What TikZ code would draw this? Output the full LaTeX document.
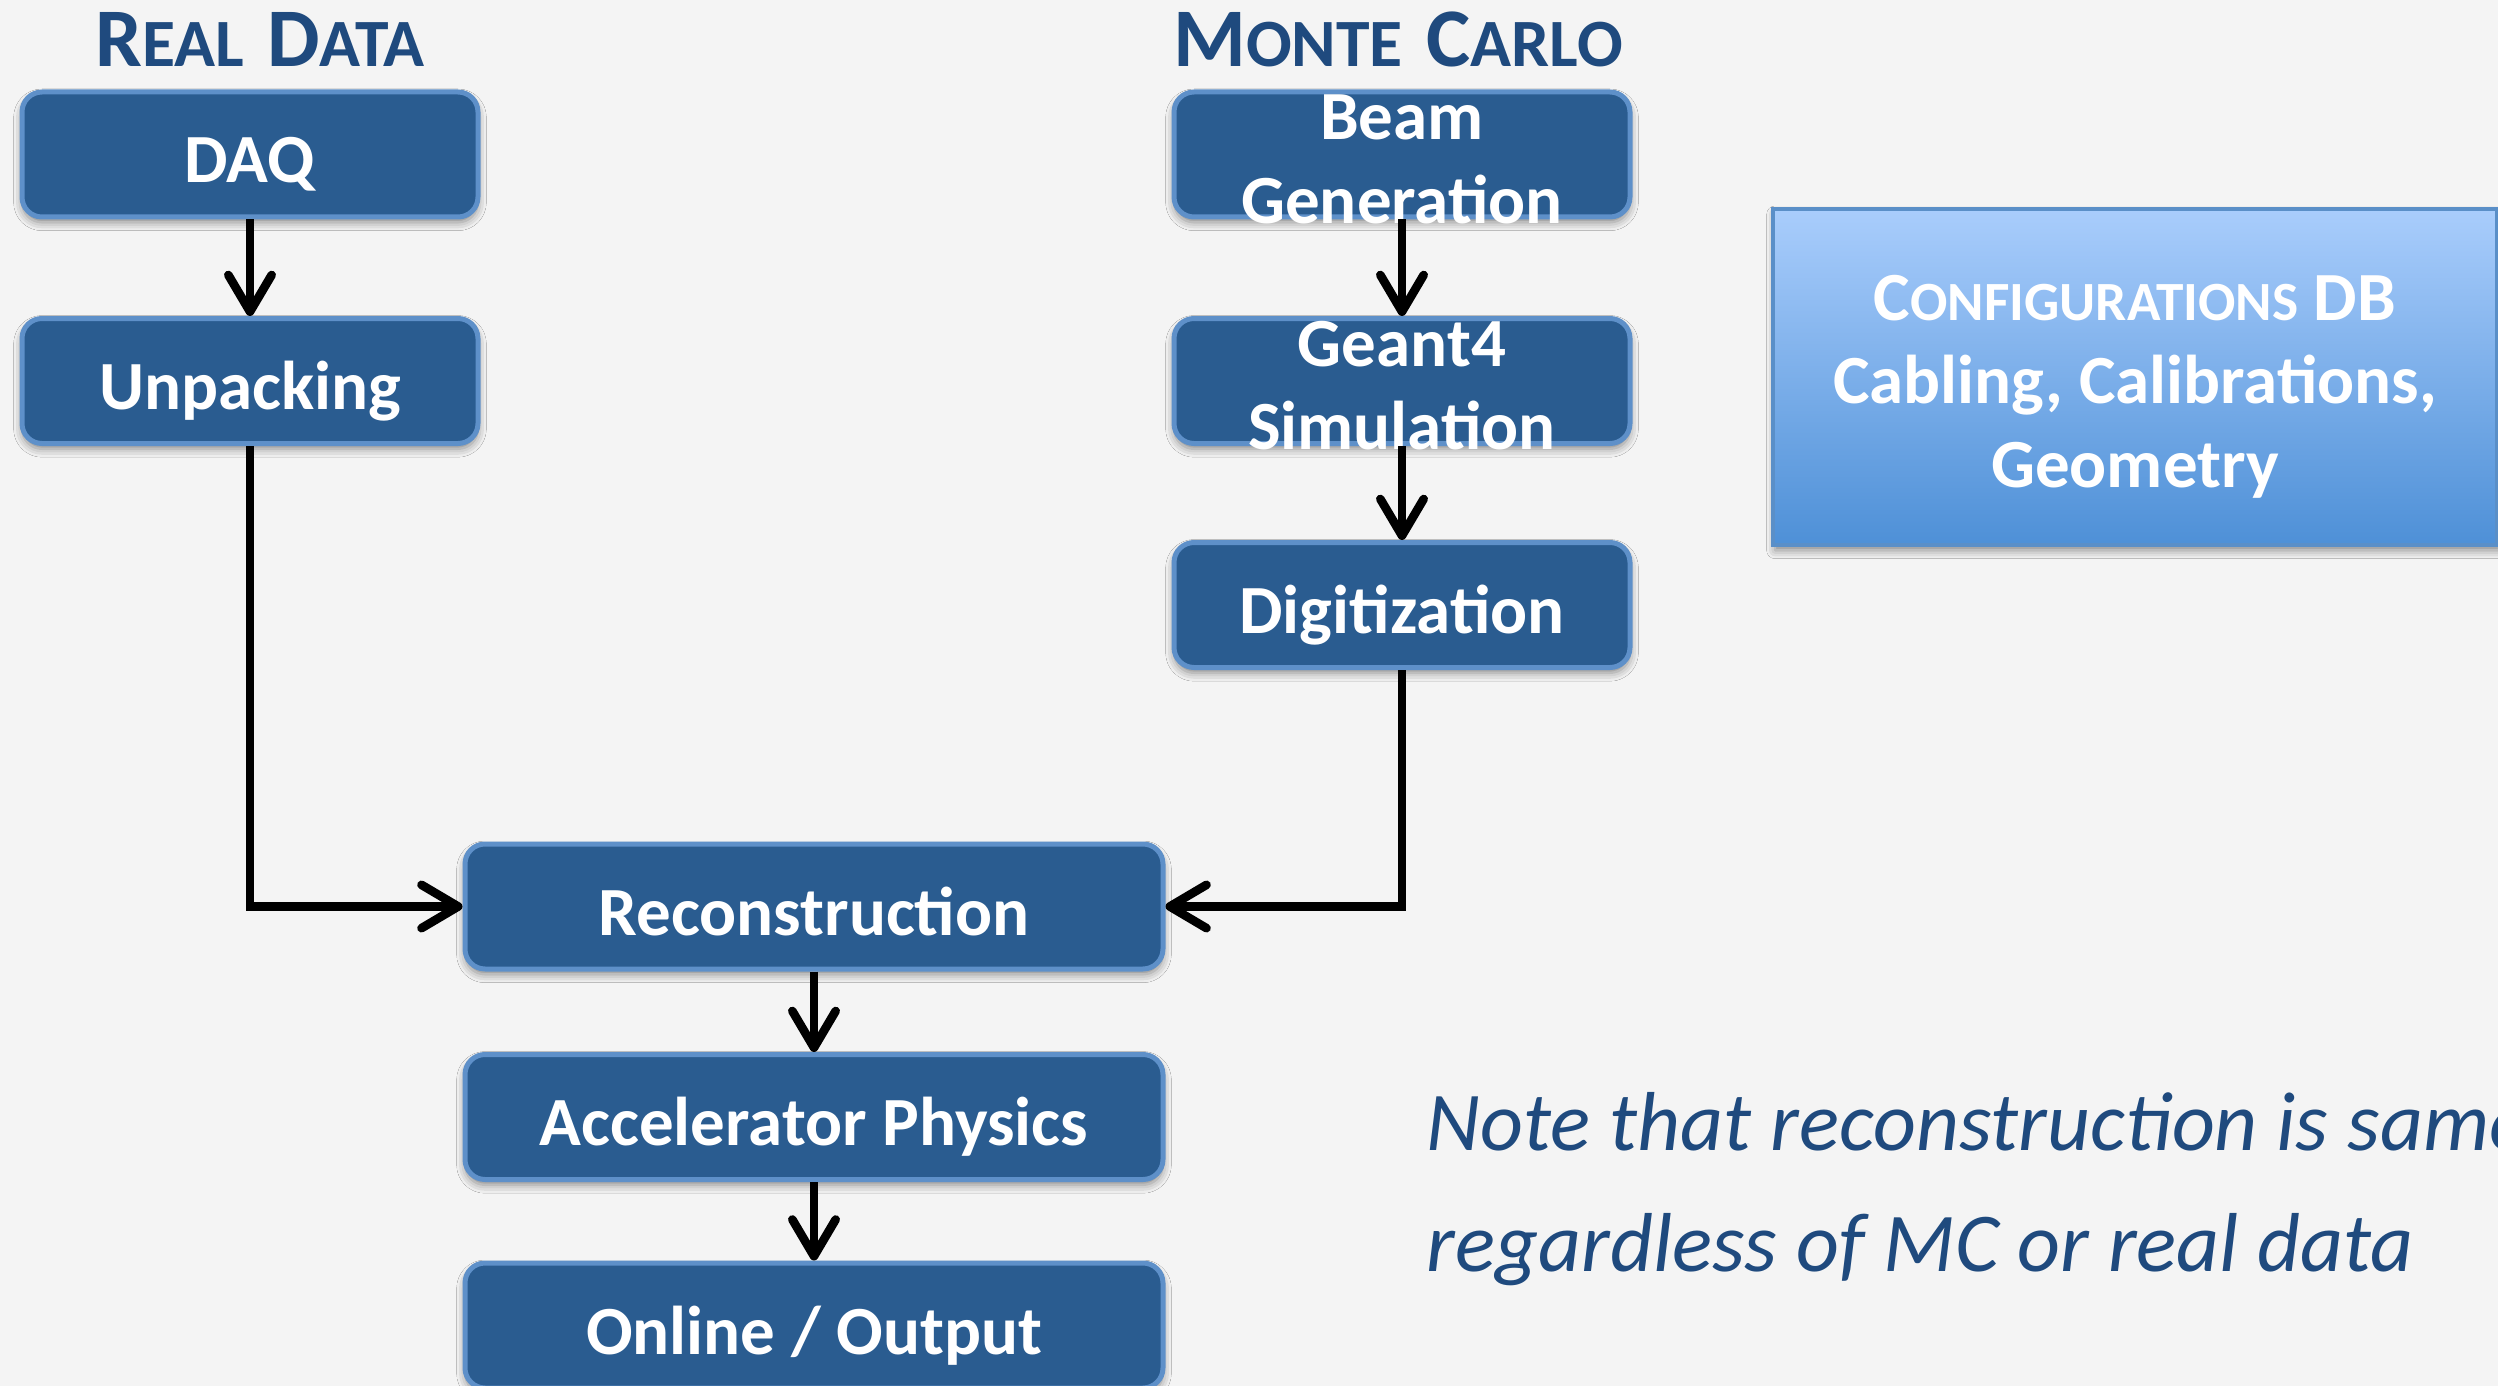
\documentclass[tikz,border=0pt]{standalone}
\usepackage{fontspec}
\setmainfont{Carlito}
\usetikzlibrary{arrows.meta,shadows.blur}
\definecolor{pagebg}{HTML}{F4F4F4}
\definecolor{boxfill}{HTML}{2A5C90}
\definecolor{boxedge}{HTML}{5E90C9}
\definecolor{titleblue}{HTML}{1F4A7E}
\definecolor{cfgtop}{HTML}{A9CDFC}
\definecolor{cfgbot}{HTML}{4E90D7}
\definecolor{cfgedge}{HTML}{5A8FC8}
\tikzset{
  x=0.3pt, y=-0.3pt,
  softshadow/.style={blur shadow={shadow xshift=0pt, shadow yshift=-1.6pt,
      shadow blur radius=2.5pt, shadow opacity=45}},
  stagebox/.style={rectangle, rounded corners=6pt, fill=boxfill, draw=boxedge,
      line width=1.5pt, minimum width=136.8pt, minimum height=37.5pt,
      inner sep=0pt, softshadow},
  widebox/.style={stagebox, minimum width=209.4pt},
  boxtext/.style={anchor=base, text=white, inner sep=0pt,
      font=\bfseries\fontsize{20.7}{25}\selectfont},
  headtext/.style={anchor=base, text=titleblue, inner sep=0pt, font=\bfseries},
  notetext/.style={anchor=base west, text=titleblue, inner sep=0pt,
      font=\itshape\fontsize{25.1}{30}\selectfont},
  flow/.style={line width=2.6pt, black,
      -{Straight Barb[round, length=11pt, width=13pt]}}
}
\newcommand{\bigc}[1]{{\fontsize{25}{30}\selectfont #1}}
\newcommand{\smc}[1]{{\fontsize{20.3}{30}\selectfont #1}}
\newcommand{\cbig}[1]{{\fontsize{20.7}{25}\selectfont #1}}
\newcommand{\csmall}[1]{{\fontsize{16.6}{25}\selectfont #1}}
\begin{document}
\begin{tikzpicture}
  % page
  \path[use as bounding box, fill=pagebg] (0,0) rectangle (2498,1386);
  \clip (0,0) rectangle (2498,1386);

  % column headings
  \node[headtext] (realhead) at (260,67) {\bigc{R}\smc{EAL}\hspace{7pt}\bigc{D}\smc{ATA}};
  \node[headtext] (mchead) at (1398,67) {\bigc{M}\smc{ONTE}\hspace{7pt}\bigc{C}\smc{ARLO}};

  % real data chain
  \node[stagebox] (daq) at (250,154.5) {};
  \node[stagebox] (unpack) at (250,381) {};
  % monte carlo chain
  \node[stagebox] (beam) at (1402,154.5) {};
  \node[stagebox] (geant) at (1402,381) {};
  \node[stagebox] (digi) at (1402,605) {};
  % common chain
  \node[widebox] (reco) at (814,906.5) {};
  \node[widebox] (accel) at (814,1117) {};
  \node[widebox] (online) at (814,1325.5) {};

  % configuration database
  \node[rectangle, minimum width=217.2pt, minimum height=100.8pt, inner sep=0pt,
        top color=cfgtop, bottom color=cfgbot, draw=cfgedge, line width=1pt,
        blur shadow={shadow xshift=0.6pt, shadow yshift=-1.6pt,
          shadow blur radius=2.5pt, shadow opacity=45}]
        (config) at (2135,377) {};

  % box labels
  \node[boxtext] (daqtxt) at (250,183) {DAQ};
  \node[boxtext] (unpacktxt) at (250,410) {Unpacking};
  \node[boxtext] (beamtxt) at (1402,140) {Beam};
  \node[boxtext] (gentxt) at (1402,223) {Generation};
  \node[boxtext] (geanttxt) at (1402,367) {Geant4};
  \node[boxtext] (simtxt) at (1402,449) {Simulation};
  \node[boxtext] (digitxt) at (1402,633) {Digitization};
  \node[boxtext] (recotxt) at (814,935) {Reconstruction};
  \node[boxtext] (acceltxt) at (814,1145) {Accelerator Physics};
  \node[boxtext] (onlinetxt) at (814,1354) {Online / Output};

  \node[boxtext] (cfgtxt1) at (2135,320) {\cbig{C}\csmall{ONFIGURATIONS} DB};
  \node[boxtext] (cfgtxt2) at (2135,403) {Cabling, Calibrations,};
  \node[boxtext] (cfgtxt3) at (2135,487) {Geometry};

  % remark
  \node[notetext] (note1) at (1426,1150) {Note that reconstruction is same};
  \node[notetext] (note2) at (1426,1271) {regardless of MC or real data};

  % connectors
  \draw[flow] (daq) -- (unpack);
  \draw[flow] (beam) -- (geant);
  \draw[flow] (geant) -- (digi);
  \draw[flow] (unpack.south) |- (reco.west);
  \draw[flow] (digi.south) |- (reco.east);
  \draw[flow] (reco) -- (accel);
  \draw[flow] (accel) -- (online);
\end{tikzpicture}
\end{document}
